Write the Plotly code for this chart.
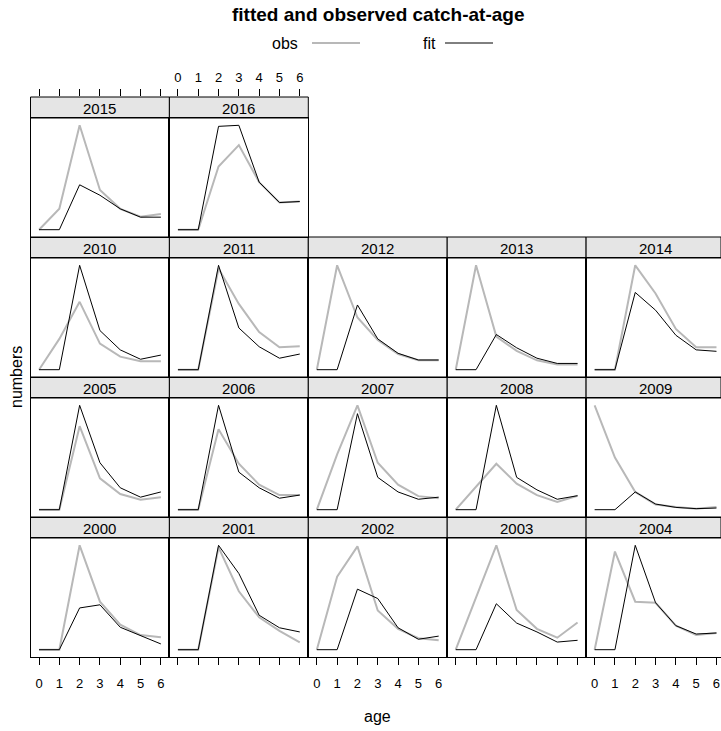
import plotly.graph_objects as go

ages = [0, 1, 2, 3, 4, 5, 6]
years = list(range(2000, 2017))

obs_2000 = [0, 0, 100, 46, 24, 14, 12]
fit_2000 = [0, 0, 40, 43, 21.5, 13.5, 5.5]
obs_2001 = [0, 0, 98, 56, 31, 18, 7]
fit_2001 = [0, 0, 100, 73, 33, 21, 17]
obs_2002 = [0, 70, 99, 37.5, 20, 11, 9]
fit_2002 = [0, 0, 58, 49, 21, 10, 13]
obs_2003 = [0, 50, 100, 38, 20, 11.5, 26]
fit_2003 = [0, 0, 44, 25.5, 17, 7.3, 9]
obs_2004 = [0, 94, 46, 45, 23, 14, 16]
fit_2004 = [0, 0, 100, 45, 23, 15, 16]
obs_2005 = [0, 0, 80, 30, 15, 9.5, 12]
fit_2005 = [0, 0, 100, 45, 21, 12, 17]
obs_2006 = [0, 0, 77, 44, 24, 14, 14]
fit_2006 = [0, 0, 100, 36, 21, 11, 14]
obs_2007 = [0, 53, 100, 45, 24, 13, 11]
fit_2007 = [0, 0, 92, 31, 17, 10, 12]
obs_2008 = [0, 22, 44, 25, 14, 7.3, 13.4]
fit_2008 = [0, 0, 100, 31, 19, 10, 13.4]
obs_2009 = [100, 50, 17, 5, 2.5, 1, 2.5]
fit_2009 = [0, 0, 17, 5.4, 2.2, 1, 1.6]
obs_2010 = [0, 29.5, 65, 25, 12.5, 8, 8]
fit_2010 = [0, 0, 100, 37.5, 19, 10, 14]
obs_2011 = [0, 0, 97, 63, 36, 21.5, 22.5]
fit_2011 = [0, 0, 100, 40, 22, 11, 15]
obs_2012 = [0, 100, 50, 28.5, 15, 9, 9]
fit_2012 = [0, 0, 62, 29.5, 15.7, 9.3, 9.3]
obs_2013 = [0, 100, 31.7, 18, 9, 5, 5]
fit_2013 = [0, 0, 33.7, 21, 11, 6, 6]
obs_2014 = [0, 0, 100, 73, 39, 21.5, 21.5]
fit_2014 = [0, 0, 74, 57, 33, 19, 17.6]
obs_2015 = [0, 20, 100, 38, 20, 12.5, 15]
fit_2015 = [0, 0, 43, 33, 20, 12, 12]
obs_2016 = [0, 0, 60.6, 81, 45.5, 26, 27]
fit_2016 = [0, 0, 99, 100, 45.5, 26, 27]

obs = {y: globals()[f"obs_{y}"] for y in years}
fit = {y: globals()[f"fit_{y}"] for y in years}

W, H = 721, 731
FONT = "Liberation Sans, Arial, sans-serif"
OBS_COL = "#b8b8b8"
CLEAR = "rgba(0,0,0,0)"

col_left0 = 30.5
col_w = 138.9
strip_top0 = 97
strip_h = 21
row_period = 140
panel_h = 119

PX_PER = col_w / 6.84

def px2x(px):
    return px / W

def px2y(py):
    return 1 - py / H

fig = go.Figure()
layout = {}
shapes = []
annotations = []
extra = [18]

def tick_axis(dom, xr, side, ticks, labels):
    return dict(domain=dom, range=xr, side=side, showgrid=False, zeroline=False,
                showline=False, tickmode="array", tickvals=ages,
                ticktext=[str(a) for a in ages],
                ticks=ticks, ticklen=7, tickwidth=1,
                tickcolor="black", showticklabels=True,
                tickfont=dict(family=FONT, size=13, color="black" if labels else CLEAR))

def add_tick_subplot(xspec, y_px):
    """A thin helper subplot whose x axis carries ticks / labels at pixel row y_px."""
    m = extra[0]
    extra[0] += 1
    xspec = dict(xspec, anchor=f"y{m}")
    layout[f"xaxis{m}"] = xspec
    layout[f"yaxis{m}"] = dict(domain=[px2y(y_px + 1), px2y(y_px)], range=[0, 1],
                               visible=False, anchor=f"x{m}")
    fig.add_trace(go.Scatter(x=[None], y=[None], mode="lines", xaxis=f"x{m}", yaxis=f"y{m}",
                             showlegend=False, hoverinfo="skip"))

for i, yr in enumerate(years):
    idx = yr - 2000
    row_from_bottom = idx // 5
    col = idx % 5
    k = 3 - row_from_bottom  # row from top
    left = col_left0 + col * col_w
    right = min(left + col_w, W)
    st = strip_top0 + k * row_period
    sb = st + strip_h
    pb = sb + panel_h
    n = i + 1
    xa = f"x{n}" if n > 1 else "x"
    ya = f"y{n}" if n > 1 else "y"
    xr = [-0.42, -0.42 + (right - left) / PX_PER]
    dom = [px2x(left), px2x(right)]
    fig.add_trace(go.Scatter(x=ages, y=obs[yr], mode="lines",
                             line=dict(color=OBS_COL, width=2),
                             xaxis=xa, yaxis=ya, showlegend=False, hoverinfo="skip"))
    fig.add_trace(go.Scatter(x=ages, y=fit[yr], mode="lines",
                             line=dict(color="black", width=1),
                             xaxis=xa, yaxis=ya, showlegend=False, hoverinfo="skip"))
    bottom_row = (k == 3)
    xdict = dict(domain=dom, range=xr, anchor=ya, showgrid=False, zeroline=False,
                 ticks="", showticklabels=False, showline=True, linecolor="black",
                 linewidth=1, mirror=True)
    ydict = dict(domain=[px2y(pb), px2y(sb)], range=[-7, 107], anchor=xa,
                 showgrid=False, zeroline=False, showline=True, linecolor="black",
                 linewidth=1, mirror=True, showticklabels=False, ticks="")
    layout["xaxis" if n == 1 else f"xaxis{n}"] = xdict
    layout["yaxis" if n == 1 else f"yaxis{n}"] = ydict
    if bottom_row:
        # tick marks below every bottom panel
        add_tick_subplot(tick_axis(dom, xr, "bottom", "outside", False), pb - 1)
        # tick labels on alternating columns
        if col in (0, 2, 4):
            add_tick_subplot(tick_axis(dom, xr, "bottom", "", True), 673)
    # strip
    shapes.append(dict(type="rect", xref="paper", yref="paper",
                       x0=px2x(left), x1=px2x(right), y0=px2y(sb), y1=px2y(st),
                       fillcolor="#e5e5e5", line=dict(color="black", width=1), layer="below"))
    annotations.append(dict(x=(px2x(left) + px2x(left + col_w)) / 2, y=px2y((st + sb) / 2 + 0.5),
                            xref="paper", yref="paper", text=str(yr), showarrow=False,
                            font=dict(family=FONT, size=15, color="black"),
                            xanchor="center", yanchor="middle"))
    # top axis ticks / labels for the top layout row
    if k == 0:
        add_tick_subplot(tick_axis(dom, xr, "top", "outside", False), st)
        if col == 1:
            add_tick_subplot(tick_axis(dom, xr, "top", "", True), 86)

# title and legend
annotations.append(dict(x=px2x(378), y=px2y(14), xref="paper", yref="paper",
                        text="<b>fitted and observed catch-at-age</b>", showarrow=False,
                        font=dict(family=FONT, size=19, color="black"),
                        xanchor="center", yanchor="middle"))
annotations.append(dict(x=px2x(300), y=px2y(43), xref="paper", yref="paper", text="obs",
                        showarrow=False, font=dict(family=FONT, size=16, color="black"),
                        xanchor="right", yanchor="middle"))
annotations.append(dict(x=px2x(438), y=px2y(43), xref="paper", yref="paper", text="fit",
                        showarrow=False, font=dict(family=FONT, size=16, color="black"),
                        xanchor="right", yanchor="middle"))
shapes.append(dict(type="line", xref="paper", yref="paper", x0=px2x(312), x1=px2x(360),
                   y0=px2y(43), y1=px2y(43), line=dict(color=OBS_COL, width=2)))
shapes.append(dict(type="line", xref="paper", yref="paper", x0=px2x(445), x1=px2x(493),
                   y0=px2y(43), y1=px2y(43), line=dict(color="black", width=1)))
annotations.append(dict(x=px2x(377), y=px2y(716), xref="paper", yref="paper", text="age",
                        showarrow=False, font=dict(family=FONT, size=16, color="black"),
                        xanchor="center", yanchor="middle"))
annotations.append(dict(x=px2x(16), y=px2y(377), xref="paper", yref="paper", text="numbers",
                        showarrow=False, textangle=-90,
                        font=dict(family=FONT, size=16, color="black"),
                        xanchor="center", yanchor="middle"))

fig.update_layout(width=W, height=H, margin=dict(l=0, r=0, t=0, b=0),
                  paper_bgcolor="white", plot_bgcolor="rgba(0,0,0,0)",
                  shapes=shapes, annotations=annotations, hovermode=False,
                  **layout)
fig.write_html("out.html", config={"displayModeBar": False})
